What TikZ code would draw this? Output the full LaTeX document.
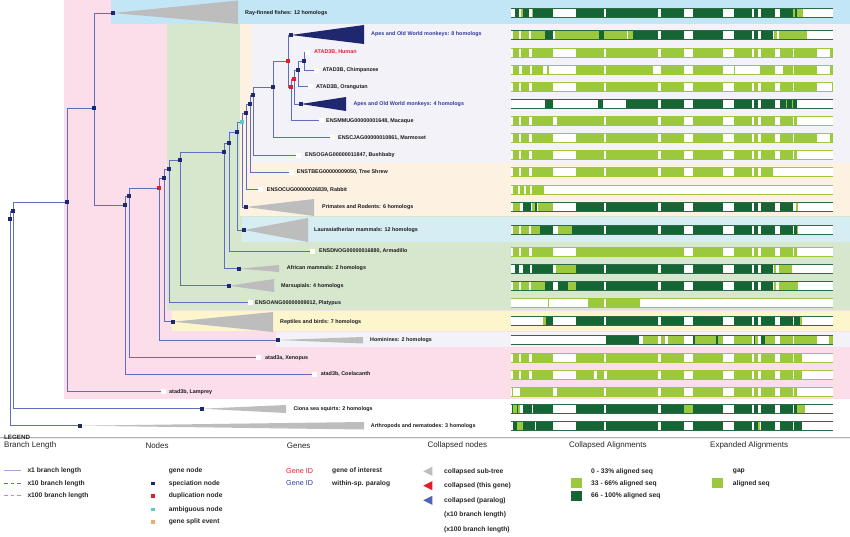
\documentclass[tikz,border=0pt]{standalone}
\usepackage{fontspec}
\setmainfont{Liberation Sans}
\definecolor{pinkbg}{RGB}{251,222,234}
\definecolor{bluebg}{RGB}{194,230,246}
\definecolor{greenbg}{RGB}{214,231,205}
\definecolor{creambg}{RGB}{253,241,226}
\definecolor{lavbg}{RGB}{243,242,249}
\definecolor{cyanbg}{RGB}{213,237,243}
\definecolor{yellowbg}{RGB}{253,246,204}
\definecolor{branchc}{RGB}{95,110,190}
\definecolor{specc}{RGB}{31,40,110}
\definecolor{duplc}{RGB}{226,30,38}
\definecolor{ambigc}{RGB}{95,200,200}
\definecolor{splitc}{RGB}{240,170,110}
\definecolor{collgray}{RGB}{189,189,189}
\definecolor{lgreen}{RGB}{155,200,60}
\definecolor{dgreen}{RGB}{21,101,53}
\definecolor{redtext}{RGB}{230,30,40}
\definecolor{bluetext}{RGB}{50,60,160}
\definecolor{paraloc}{RGB}{80,100,180}
\pgfdeclarelayer{bg}
\pgfdeclarelayer{edges}
\pgfsetlayers{bg,edges,main}
\tikzset{
 specnode/.style={rectangle, fill=specc, inner sep=0pt, minimum width=4.6pt, minimum height=4pt},
 dupnode/.style={specnode, fill=duplc},
 ambnode/.style={specnode, fill=ambigc},
 leafnode/.style={rectangle, fill=white, inner sep=0pt, minimum size=5pt},
 lbl/.style={anchor=west, inner sep=0pt, font=\bfseries\fontsize{5.4}{6}\selectfont, text=black!90},
 brline/.style={draw=branchc, line width=0.9pt},
 hdr/.style={anchor=west, inner sep=0pt, font=\fontsize{8}{9}\selectfont, text=black!85},
 itm/.style={anchor=west, inner sep=0pt, font=\bfseries\fontsize{6.7}{8}\selectfont, text=black!85},
}
\newcommand\alnseg[4]{% y, color, a, b
  \pgfmathparse{(#4>#3)?1:0}%
  \ifnum\pgfmathresult=1
    \fill[#2] ({500+#3/3},{#1-4.5}) rectangle ({500+#4/3},{#1+4.5});
  \fi}
\newcommand\alnbar[4]{%
  \fill[white] (511,{#1-4.5}) rectangle (833.3,{#1+4.5});
  \foreach \a/\b in {#3} {\alnseg{#1}{lgreen}{\a}{\b}}
  \foreach \a/\b in {#4} {\alnseg{#1}{dgreen}{\a}{\b}}
  \draw[#2,line width=0.6pt] (511,{#1-4.5}) -- (833.3,{#1-4.5}) (511,{#1+4.5}) -- (833.3,{#1+4.5});
}
\begin{document}
\begin{tikzpicture}[x=1pt,y=-1pt]
\useasboundingbox (0,0) rectangle (850,536);
% ---------- background bands
\begin{pgfonlayer}{bg}
\fill[white] (0,0) rectangle (850,536);
\fill[pinkbg] (64,0) rectangle (850,399);
\fill[bluebg] (111,0) rectangle (850,24);
\fill[greenbg] (167,24) rectangle (850,310);
\fill[creambg] (240,24) rectangle (850,216);
\fill[lavbg] (252,24) rectangle (850,163);
\fill[cyanbg] (242,217) rectangle (850,242);
\fill[yellowbg] (172,311) rectangle (850,331);
\fill[lavbg] (276,332) rectangle (850,347);
\end{pgfonlayer}
% ---------- tree nodes
\node[specnode] (nB) at (10,219) {};
\node[specnode] (nA) at (13,211) {};
\node[specnode] (n67) at (67,202) {};
\node[specnode] (n94) at (94,108) {};
\node[specnode] (nRay) at (113,13) {};
\node[specnode] (nC) at (125,205) {};
\node[specnode] (nD) at (129,196) {};
\node[dupnode] (nE) at (159,188) {};
\node[specnode] (nF) at (164,178) {};
\node[specnode] (nG) at (169,169) {};
\node[specnode] (nH) at (180,160) {};
\node[specnode] (nI) at (224,152) {};
\node[specnode] (nJ) at (229,143) {};
\node[specnode] (nK) at (237,132) {};
\node[ambnode] (nL) at (242,122) {};
\node[specnode] (nM) at (246,113) {};
\node[specnode] (nN) at (250,104) {};
\node[specnode] (nO) at (253,95) {};
\node[specnode] (nP) at (273,87) {};
\node[dupnode] (nQ) at (288,61) {};
\node[specnode] (nApe8) at (291,35) {};
\node[dupnode] (nR) at (291,87) {};
\node[dupnode] (nS) at (294,79) {};
\node[specnode] (nT) at (298,70) {};
\node[specnode] (nU) at (304,61) {};
\node[specnode] (nApe4) at (301,104) {};
\node[leafnode] (lHuman) at (307,52.3) {};
\node[leafnode] (lChimp) at (316,70) {};
\node[leafnode] (lOrang) at (310,86.7) {};
\node[leafnode] (lMacaque) at (321,120.7) {};
\node[leafnode] (lMarmoset) at (332,137.7) {};
\node[leafnode] (lBushbaby) at (298,155) {};
\node[leafnode] (lTreeshrew) at (291,172.3) {};
\node[leafnode] (lRabbit) at (260,189.7) {};
\node[specnode] (nPrim) at (246,207) {};
\node[specnode] (nLaur) at (244,230) {};
\node[leafnode] (lArmadillo) at (312,251) {};
\node[specnode] (nAfr) at (239,268.7) {};
\node[specnode] (nMars) at (229,285.7) {};
\node[leafnode] (lPlatypus) at (250,302.7) {};
\node[specnode] (nRept) at (173,321.7) {};
\node[specnode] (nHomin) at (278,340) {};
\node[leafnode] (lXenopus) at (258,357.7) {};
\node[leafnode] (lCoel) at (314,374.3) {};
\node[leafnode] (lLamprey) at (163,391.7) {};
\node[specnode] (nCiona) at (202,408.7) {};
\node[specnode] (nArth) at (80,425.7) {};
% ---------- edges and collapsed triangles
\begin{pgfonlayer}{edges}
\foreach \p/\c in {nB/nA,nB/nArth,nA/n67,nA/nCiona,n67/n94,n67/lLamprey,n94/nRay,n94/nC,
  nC/nD,nC/lCoel,nD/nE,nD/lXenopus,nE/nF,nE/nHomin,nF/nG,nF/nRept,nG/nH,nG/lPlatypus,
  nH/nI,nH/nMars,nI/nJ,nI/nAfr,nJ/nK,nJ/lArmadillo,nK/nL,nK/nLaur,nL/nM,nL/nPrim,
  nM/nN,nM/lRabbit,nN/nO,nN/lTreeshrew,nO/nP,nO/lBushbaby,nP/nQ,nP/lMarmoset,
  nQ/nApe8,nQ/nR,nR/nS,nR/lMacaque,nS/nT,nS/nApe4,nT/nU,nT/lOrang,nU/lHuman,nU/lChimp}
  {\draw[brline] (\p.center) |- (\c.center);}
\fill[collgray] (nRay.center) -- (238,0.5) -- (238,24) -- cycle;
\fill[specc] (nApe8.center) -- (364,25) -- (364,44) -- cycle;
\fill[specc] (nApe4.center) -- (346,97) -- (346,111) -- cycle;
\fill[collgray] (nPrim.center) -- (314,199) -- (314,216) -- cycle;
\fill[collgray] (nLaur.center) -- (308,218) -- (308,242) -- cycle;
\fill[collgray] (nAfr.center) -- (279,265) -- (279,272) -- cycle;
\fill[collgray] (nMars.center) -- (274,279) -- (274,292) -- cycle;
\fill[collgray] (nRept.center) -- (273,312) -- (273,332) -- cycle;
\fill[collgray] (nHomin.center) -- (363,337) -- (363,343.5) -- cycle;
\fill[collgray] (nCiona.center) -- (286,405) -- (286,413) -- cycle;
\fill[collgray] (nArth.center) -- (364,422) -- (364,429.5) -- cycle;
\end{pgfonlayer}
% ---------- labels
\node[lbl] (tRay) at (245,12.7) {Ray-finned fishes: 12 homologs};
\node[lbl,text=bluetext] (tApe8) at (371,34.5) {Apes and Old World monkeys: 8 homologs};
\node[lbl,text=redtext] (tHuman) at (314,52.3) {ATAD3B, Human};
\node[lbl] (tChimp) at (322.3,70) {ATAD3B, Chimpanzee};
\node[lbl] (tOrang) at (316,86.7) {ATAD3B, Orangutan};
\node[lbl,text=bluetext] (tApe4) at (353.3,104) {Apes and Old World monkeys: 4 homologs};
\node[lbl] (tMacaque) at (326,120.7) {ENSMMUG00000001648, Macaque};
\node[lbl] (tMarmoset) at (338,137.7) {ENSCJAG00000010861, Marmoset};
\node[lbl] (tBushbaby) at (305,155) {ENSOGAG00000011847, Bushbaby};
\node[lbl] (tTreeshrew) at (296.7,172.3) {ENSTBEG00000009050, Tree Shrew};
\node[lbl] (tRabbit) at (266.7,189.7) {ENSOCUG00000026839, Rabbit};
\node[lbl] (tPrim) at (322,207) {Primates and Rodents: 6 homologs};
\node[lbl] (tLaur) at (314,230) {Laurasiatherian mammals: 12 homologs};
\node[lbl] (tArmadillo) at (319,251) {ENSDNOG00000016880, Armadillo};
\node[lbl] (tAfr) at (286.7,268.3) {African mammals: 2 homologs};
\node[lbl] (tMars) at (281,285.7) {Marsupials: 4 homologs};
\node[lbl] (tPlatypus) at (255,302.7) {ENSOANG00000009012, Platypus};
\node[lbl] (tRept) at (280,321.7) {Reptiles and birds: 7 homologs};
\node[lbl] (tHomin) at (370,340) {Hominines: 2 homologs};
\node[lbl] (tXenopus) at (265,357.7) {atad3a, Xenopus};
\node[lbl] (tCoel) at (320.7,374.3) {atad3b, Coelacanth};
\node[lbl] (tLamprey) at (169,391.7) {atad3b, Lamprey};
\node[lbl] (tCiona) at (293.3,408.7) {Ciona sea squirts: 2 homologs};
\node[lbl] (tArth) at (370.7,425.7) {Arthropods and nematodes: 3 homologs};
% ---------- alignment bars
\alnbar{12.8}{dgreen!80!gray}{62/68,95/100,878/885,890/910}{45/58,68/88,100/160,228/313,318/473,482/552,578/668,703/757,762/775,782/825,840/878,885/890}
\alnbar{34.8}{dgreen!80!gray}{38/58,62/88,92/135,165/297,312/380,385/400,822/830,838/920}{135/160,297/312,400/473,482/552,578/668,703/757,762/775,782/820}
\alnbar{53}{lgreen}{38/58,62/88,95/160,228/313,318/473,482/552,578/668,703/757,762/775,782/825,840/878,882/950,990/1000}{0/0}
\alnbar{70}{lgreen}{38/58,65/90,95/130,140/148,228/313,318/460,482/552,578/668,703/705,780/825,848/878,882/950,990/1000}{0/0}
\alnbar{87}{lgreen}{38/58,62/88,95/160,228/313,318/473,482/552,578/668,703/757,762/775,782/825,840/878,882/950,995/1000}{0/0}
\alnbar{104}{dgreen!80!gray}{858/862,875/880}{135/160,295/310,378/473,482/552,578/668,703/757,762/775,782/825,840/858,862/875,880/892}
\alnbar{121}{lgreen}{38/58,62/88,95/160,172/313,318/473,482/552,578/668,703/757,762/775,782/825,840/878,882/892}{0/0}
\alnbar{138}{lgreen}{38/58,62/88,95/160,228/313,318/473,482/552,578/668,703/757,762/775,782/825,840/878,882/950,990/1000}{0/0}
\alnbar{155}{lgreen}{38/58,62/88,95/160,228/313,318/473,482/552,578/668,703/757,762/775,782/825,840/878,882/892}{0/0}
\alnbar{172}{lgreen}{38/58,62/88,95/160,228/313,318/473,482/552,578/668,703/757,762/775,782/820}{0/0}
\alnbar{190}{lgreen}{40/55,60/72,78/90,95/132}{0/0}
\alnbar{207}{dgreen!80!gray}{38/60,95/105,115/160,888/895}{68/92,105/112,228/313,318/473,482/552,578/668,703/757,762/775,782/825,840/878}
\alnbar{230}{dgreen!80!gray}{38/58,62/88,92/120,175/215,892/895}{120/160,215/313,318/473,482/552,578/668,703/757,762/775,782/825,840/878,882/892}
\alnbar{252}{lgreen}{38/58,62/88,95/160,228/552,578/668,703/757,762/775,782/825,840/878,882/890}{0/0}
\alnbar{269}{dgreen!80!gray}{168/228,822/828,838/875}{45/58,68/90,95/160,228/313,318/473,482/552,578/668,703/757,762/775,782/820}
\alnbar{286}{dgreen!80!gray}{38/58,62/88,92/135,205/228,822/828,838/895}{135/160,175/205,228/313,318/473,482/552,578/668,703/757,762/775,782/820}
\alnbar{303}{lgreen}{145/148,263/313,318/420}{0/0}
\alnbar{321}{dgreen!80!gray}{130/137,900/905}{137/160,228/313,318/473,482/552,578/668,703/757,762/775,782/825,840/878,882/900}
\alnbar{340}{dgreen!80!gray}{428/473,482/495,503/552,585/648,655/668,703/757,765/775,795/825,840/878,882/952,988/1000}{318/418,578/585,648/655,762/765,782/795}
\alnbar{358}{lgreen}{38/58,62/88,95/160,228/313,318/473,482/552,578/668,703/757,762/775,782/825,840/878,882/905}{0/0}
\alnbar{375}{lgreen}{38/58,62/88,95/160,228/283,290/313,322/473,482/552,578/668,703/757,762/775,782/825,840/878,882/905}{0/0}
\alnbar{392}{lgreen}{36/40,60/160,170/313,318/473,482/552,578/668,703/757,762/775,782/825,840/878,882/892}{0/0}
\alnbar{409}{dgreen!80!gray}{40/50,55/60,552/578,892/915}{35/40,50/55,68/95,98/160,228/313,318/473,482/552,578/668,703/757,762/775,782/825,840/878,882/892}
\alnbar{426}{dgreen!80!gray}{52/68,775/780}{38/52,68/105,108/160,228/313,318/473,482/552,578/668,703/757,762/775,782/825,840/878,882/905}
% ---------- legend
\draw[gray!60,line width=2.6pt] (0,438) -- (850,438);
\draw[white!85!gray,line width=0.4pt] (0,438) -- (850,438);
\node[itm,font=\bfseries\fontsize{6.2}{7}\selectfont] (tLegend) at (4,437.5) {LEGEND};
\node[hdr] (hBranch) at (4,445.7) {Branch Length};
\node[hdr] (hNodes) at (145.3,445.7) {Nodes};
\node[hdr] (hGenes) at (286.7,445.7) {Genes};
\node[hdr] (hColl) at (427.3,445.7) {Collapsed nodes};
\node[hdr] (hCollAln) at (569,445.7) {Collapsed Alignments};
\node[hdr] (hExpAln) at (710,445.7) {Expanded Alignments};
% branch length
\coordinate (b1a) at (4,470.7); \coordinate (b1b) at (20.5,470.7);
\coordinate (b2a) at (4,483.3); \coordinate (b2b) at (20.5,483.3);
\coordinate (b3a) at (4,495.7); \coordinate (b3b) at (20.5,495.7);
\draw[branchc!60,line width=0.8pt] (b1a) -- (b1b);
\draw[branchc,line width=0.8pt,dash pattern=on 3.5pt off 3pt] (b2a) -- (b2b);
\draw[duplc!55,line width=0.8pt,dash pattern=on 3.5pt off 3pt] (b3a) -- (b3b);
\node[itm] (i1) at (27.3,470.7) {x1 branch length};
\node[itm] (i2) at (27.3,483.3) {x10 branch length};
\node[itm] (i3) at (27.3,495.7) {x100 branch length};
% nodes
\node[itm] (n1) at (168.7,470.7) {gene node};
\node[specnode,minimum size=3.6pt] (m2) at (152.7,483.3) {};
\node[itm] (n2) at (168.7,483.3) {speciation node};
\node[dupnode,minimum size=3.6pt] (m3) at (152.7,495.7) {};
\node[itm] (n3) at (168.7,495.7) {duplication node};
\node[ambnode,minimum size=3.6pt] (m4) at (152.7,509.3) {};
\node[itm] (n4) at (168.7,509.3) {ambiguous node};
\node[specnode,fill=splitc,minimum size=3.6pt] (m5) at (152.7,521.7) {};
\node[itm] (n5) at (168.7,521.7) {gene split event};
% genes
\node[anchor=west,inner sep=0pt,font=\fontsize{7.2}{8}\selectfont,text=redtext] (g1) at (286,470.7) {Gene ID};
\node[anchor=west,inner sep=0pt,font=\fontsize{7.2}{8}\selectfont,text=bluetext] (g2) at (286,483.3) {Gene ID};
\node[itm] (g1t) at (332,470.7) {gene of interest};
\node[itm] (g2t) at (332,483.3) {within-sp. paralog};
% collapsed nodes
\fill[collgray] (423.3,471.3) -- (432.3,466.8) -- (432.3,475.8) -- cycle;
\fill[duplc] (423.3,485.7) -- (432.3,481.2) -- (432.3,490.2) -- cycle;
\fill[paraloc] (423.3,500.3) -- (432.3,495.8) -- (432.3,504.8) -- cycle;
\node[itm] (c1) at (444,471.3) {collapsed sub-tree};
\node[itm] (c2) at (444,485.7) {collapsed (this gene)};
\node[itm] (c3) at (444,500.3) {collapsed (paralog)};
\node[itm] (c4) at (444,515) {(x10 branch length)};
\node[itm] (c5) at (444,529.3) {(x100 branch length)};
% collapsed alignments
\node[itm] (a1) at (591,471.3) {0 - 33\% aligned seq};
\fill[lgreen] (571,478.3) rectangle (582.3,488.3);
\node[itm] (a2) at (591,483.3) {33 - 66\% aligned seq};
\fill[dgreen] (571,491) rectangle (582.3,501);
\node[itm] (a3) at (591,496) {66 - 100\% aligned seq};
% expanded alignments
\node[itm] (e1) at (732.7,471.3) {gap};
\fill[lgreen] (712.3,478.3) rectangle (723.3,488.3);
\node[itm] (e2) at (732.7,483.3) {aligned seq};
\end{tikzpicture}
\end{document}
